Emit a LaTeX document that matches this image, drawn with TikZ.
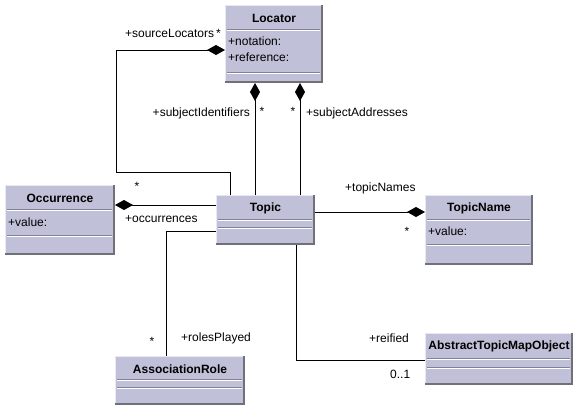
\documentclass[tikz,border=0pt]{standalone}
\usepackage{fontspec}
\setmainfont{Liberation Sans}
\usetikzlibrary{arrows.meta,positioning}

\definecolor{classfill}{RGB}{192,192,216}
\definecolor{classlight}{RGB}{232,232,242}
\definecolor{classdark}{RGB}{112,112,120}
\definecolor{sepdark}{RGB}{128,128,150}

\tikzset{
  every class/.style={fill=classfill, anchor=north west, inner sep=0pt, outer sep=0pt},
  class title/.style={font=\fontsize{12}{14}\selectfont\bfseries, inner sep=0pt},
  attr/.style={anchor=west, inner sep=0pt},
  role/.style={inner sep=0pt},
  link/.style={draw, line width=1pt},
  compose/.style={-{Diamond[length=18pt,width=10pt]}}
}

\begin{document}
\begin{tikzpicture}[x=1pt, y=-1pt, font=\fontsize{12}{14}\selectfont]

\fill [white] (0,0) rectangle (585,415);
\useasboundingbox (0,0) rectangle (585,415);

% classes
\foreach \n/\x/\y/\w/\h in {locator/225/5/98/78, occurrence/5/185/110/70,
  topic/216/195/99/50, topicname/425/195/108/70,
  assocrole/115/356/130/49, atmo/425/333/148/52}
{
  \node [every class, minimum width=\w pt, minimum height=\h pt] (\n) at (\x,\y) {};
  \draw [classlight, line width=1pt]
    ([xshift=.5pt,yshift=1pt]\n.south west) -- ([xshift=.5pt,yshift=-.5pt]\n.north west)
    -- ([xshift=-1pt,yshift=-.5pt]\n.north east);
  \draw [classdark, line width=2pt]
    ([xshift=-1pt]\n.north east) -- ([xshift=-1pt,yshift=1pt]\n.south east)
    -- ([yshift=1pt]\n.south west);
}

% compartment separators
\foreach \n/\a/\b in {locator/24/67, occurrence/24/50, topic/24/32,
  topicname/24/49, assocrole/23/31, atmo/25/34}
  \foreach \s in {\a,\b}
  {
    \draw [sepdark, line width=1pt] ([xshift=2pt,yshift={-\s*1pt}]\n.north west)
      -- ([xshift=-3pt,yshift={-\s*1pt}]\n.north east);
    \draw [white, line width=1pt] ([xshift=2pt,yshift={-(\s+1)*1pt}]\n.north west)
      -- ([xshift=-3pt,yshift={-(\s+1)*1pt}]\n.north east);
  }

% titles
\foreach \n/\t in {locator/Locator, occurrence/Occurrence, topic/Topic,
  topicname/TopicName, assocrole/AssociationRole, atmo/AbstractTopicMapObject}
  \node [class title] (\n-title) at ([yshift=-13pt]\n.north) {\t};

% attributes
\node [attr] (locator-notation) at ([xshift=3pt,yshift=-36pt]locator.north west) {+notation:};
\node [attr] (locator-reference) at ([xshift=3pt,yshift=-52pt]locator.north west) {+reference:};
\node [attr] (occurrence-value) at ([xshift=3pt,yshift=-37pt]occurrence.north west) {+value:};
\node [attr] (topicname-value) at ([xshift=3pt,yshift=-36pt]topicname.north west) {+value:};

% associations
\coordinate (sl-bend) at (116,172);
\draw [link, compose] ([xshift=14pt]topic.north west) |- (sl-bend)
  |- ([yshift=-45pt]locator.north west);

\draw [link, compose] ([xshift=39pt]topic.north west) coordinate (si-foot)
  -- (si-foot |- locator.south);
\draw [link, compose] ([xshift=84pt]topic.north west) coordinate (sa-foot)
  -- (sa-foot |- locator.south);

\draw [link, compose] ([yshift=-10pt]topic.north west) coordinate (oc-foot)
  -- (oc-foot -| occurrence.east);
\draw [link, compose] ([yshift=-17pt]topic.north east) coordinate (tn-foot)
  -- (tn-foot -| topicname.west);

\draw [link] ([yshift=-36pt]topic.north west) -| ([xshift=51pt]assocrole.north west);
\draw [link] ([xshift=80pt]topic.south west) |- ([yshift=-27pt]atmo.north west);

% role names and multiplicities
\node [role, anchor=east] (sl-role) at (221,33) {+sourceLocators\,*};
\node [role, anchor=east] (si-role) at (250,113) {+subjectIdentifiers};
\node [role] (si-mult) at (262,111) {*};
\node [role] (sa-mult) at (293,111) {*};
\node [role, anchor=west] (sa-role) at (306,113) {+subjectAddresses};
\node [role] (oc-mult) at (137,186) {*};
\node [role, anchor=west] (oc-role) at (125,219) {+occurrences};
\node [role, anchor=west] (tn-role) at (345,188) {+topicNames};
\node [role] (tn-mult) at (407,231) {*};
\node [role] (rp-mult) at (152,341) {*};
\node [role, anchor=west] (rp-role) at (181,338) {+rolesPlayed};
\node [role, anchor=west] (rf-role) at (369,338) {+reified};
\node [role, anchor=west] (rf-mult) at (390,374) {0..1};

\end{tikzpicture}
\end{document}
